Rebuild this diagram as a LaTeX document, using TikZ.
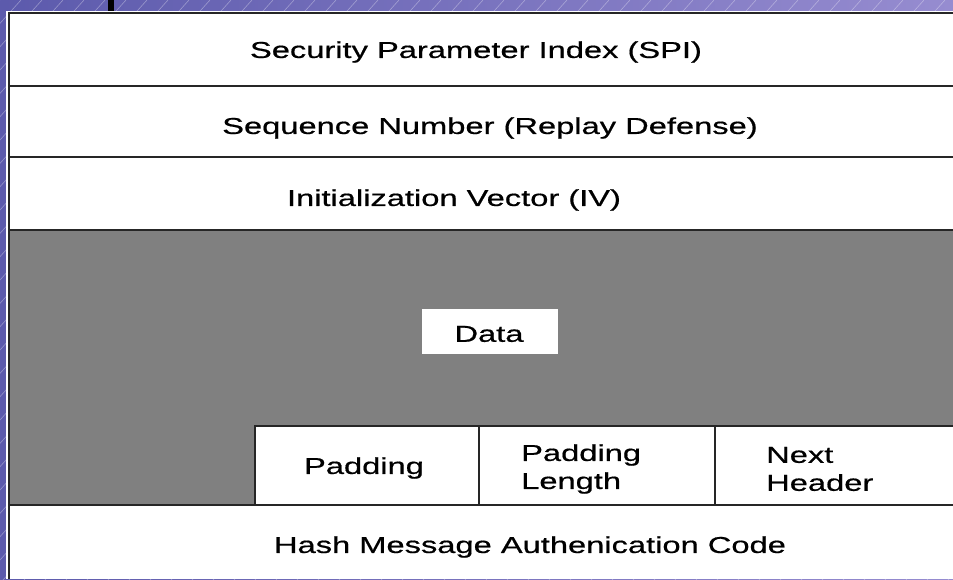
\documentclass[tikz,border=0pt]{standalone}
\usepackage{fontspec}
\newfontfamily\pixfont[FakeStretch=1.42,FakeBold=0.6]{Liberation Sans}
\definecolor{bgL}{RGB}{92,90,172}
\definecolor{bgR}{RGB}{150,140,208}
\definecolor{datagray}{RGB}{128,128,128}
\tikzset{
  lbl/.style={font=\pixfont\fontsize{23}{28}\selectfont, inner sep=0pt, text=black},
  lbltwo/.style={lbl, align=left},
  rule/.style={line width=2.6pt, draw=black!85},
}
\begin{document}
\begin{tikzpicture}[x=1pt,y=-1pt]
\useasboundingbox (0,0) rectangle (953,579);
% slide background
\shade[left color=bgL, right color=bgR] (0,0) rectangle (953,579);
\begin{scope}
  \clip (0,0) rectangle (953,579);
  \foreach \k in {0,...,75} {
    \draw[white, opacity=0.35, line width=0.6pt] (\k*21-540,600) -- (\k*21,0);
  }
\end{scope}
\fill[black] (108,0) rectangle (114,11);
% frame
\fill[white] (6,11) rectangle (960,579);
\fill[datagray] (9,230) rectangle (953,505);
\fill[white] (255,426) rectangle (953,505);
\fill[white] (422,309) rectangle (558,354);
% rules
\draw[rule] (9,579) -- (9,13) -- (953,13);
\draw[rule] (9,86) -- (953,86);
\draw[rule] (9,157) -- (953,157);
\draw[rule] (9,230) -- (953,230);
\draw[rule] (9,505) -- (953,505);
\draw[rule] (255,505) -- (255,426) -- (953,426);
\draw[rule] (479,426) -- (479,505);
\draw[rule] (715,426) -- (715,505);
% labels
\node[lbl] (spi) at (476,52) {Security Parameter Index (SPI)};
\node[lbl] (seq) at (490,128) {Sequence Number (Replay Defense)};
\node[lbl] (iv) at (454,200) {Initialization Vector (IV)};
\node[lbl] (data) at (489,334) {Data};
\node[lbl] (pad) at (364,468) {Padding};
\node[lbltwo, anchor=west] (padlen) at (521,469) {Padding\\Length};
\node[lbltwo, anchor=west] (nexthdr) at (766,469) {Next\\Header};
\node[lbl] (hmac) at (530,547) {Hash Message Authenication Code};
\end{tikzpicture}
\end{document}
